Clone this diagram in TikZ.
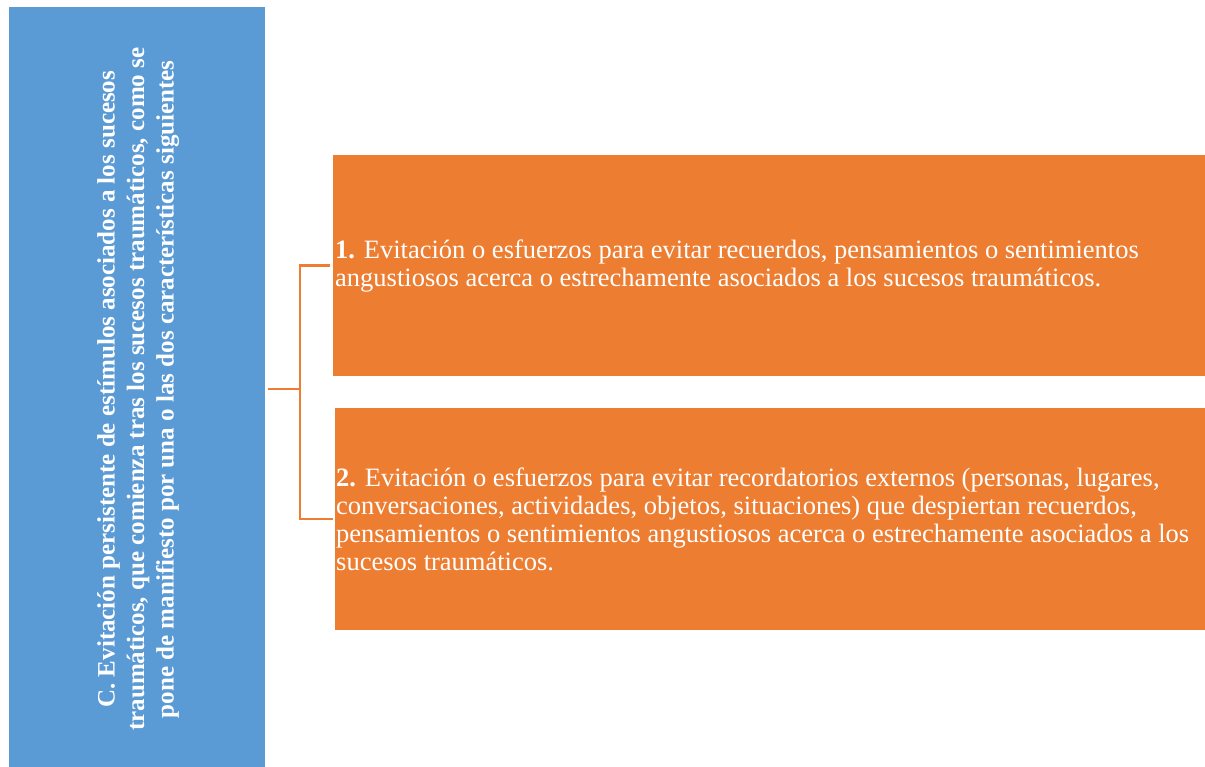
\documentclass[tikz,border=0pt]{standalone}
\usepackage{fontspec}
\setmainfont{Liberation Serif}
\definecolor{blueC}{HTML}{5B9BD5}
\definecolor{orangeC}{HTML}{ED7D31}
\begin{document}
\begin{tikzpicture}[x=1pt,y=-1pt,
  bluebox/.style={fill=blueC,draw=none,inner sep=0,anchor=north west,minimum width=256pt,minimum height=760pt},
  orangebox/.style={fill=orangeC,draw=none,inner sep=0,anchor=north west,minimum width=872pt,minimum height=221pt},
  bodytext/.style={text=white,align=left,anchor=west,inner sep=0,font=\fontsize{26.5}{28}\selectfont},
  sidetext/.style={text=white,align=center,rotate=90,inner sep=0,font=\fontsize{25}{29.5}\selectfont\bfseries},
  conn/.style={draw=orangeC,line width=2.5pt}]
\useasboundingbox (0,0) rectangle (1205,766);
\fill[white] (0,0) rectangle (1205,766);
\node[bluebox] (c) at (9,7) {};
\node[sidetext] (ct) at ([xshift=1pt,yshift=-2pt]c.center) {C. Evitación persistente de estímulos asociados a los sucesos\\traumáticos, que comienza tras los sucesos traumáticos, como se\\pone de manifiesto por una o las dos características siguientes};
\node[orangebox] (a1) at (333,155) {};
\node[orangebox,minimum width=870pt,minimum height=222pt] (a2) at (335,408) {};
\node[bodytext] (t1) at ([xshift=2pt]a1.west) {\textbf{1.} Evitación o esfuerzos para evitar recuerdos, pensamientos o sentimientos\\angustiosos acerca o estrechamente asociados a los sucesos traumáticos.};
\node[bodytext] (t2) at ([xshift=1pt]a2.west) {\textbf{2.} Evitación o esfuerzos para evitar recordatorios externos (personas, lugares,\\conversaciones, actividades, objetos, situaciones) que despiertan recuerdos,\\pensamientos o sentimientos angustiosos acerca o estrechamente asociados a los\\sucesos traumáticos.};
\coordinate (j) at (300,389);
\draw[conn] ([xshift=3pt]c.east |- j) -- (j);
\draw[conn] ([xshift=-3pt]a1.west) -| (j) |- ([xshift=-2pt]a2.west);
\end{tikzpicture}
\end{document}
